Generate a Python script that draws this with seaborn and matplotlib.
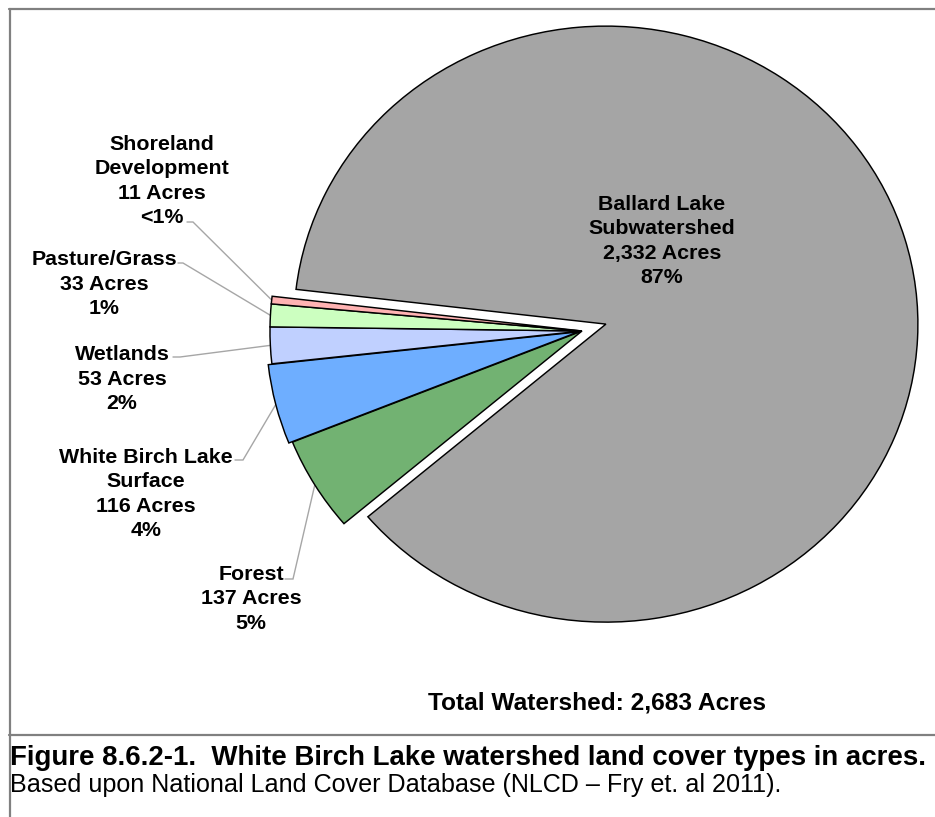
import numpy as np
import matplotlib
matplotlib.use("Agg")
import matplotlib.pyplot as plt
from matplotlib import font_manager
import seaborn as sns

# Land cover data (acres)
categories = ["Ballard Lake\nSubwatershed", "Forest", "White Birch Lake\nSurface",
              "Wetlands", "Pasture/Grass", "Shoreland\nDevelopment"]
acres = [2332, 137, 116, 53, 33, 11]
pct_labels = ["87%", "5%", "4%", "2%", "1%", "<1%"]
acre_labels = ["2,332 Acres", "137 Acres", "116 Acres", "53 Acres", "33 Acres", "11 Acres"]
colors = ["#A5A5A5", "#72B272", "#6EAEFF", "#C0D0FF", "#CCFFC0", "#FFB3B3"]
explode = [0.08, 0.0, 0.012, 0.0, 0.0, 0.0]
total_text = "Total Watershed: 2,683 Acres"
caption_title = "Figure 8.6.2-1.  White Birch Lake watershed land cover types in acres."
caption_note = "Based upon National Land Cover Database (NLCD \u2013 Fry et. al 2011)."

sns.set_theme(style="white")
plt.rcParams["font.family"] = ["Liberation Sans", "DejaVu Sans"]
plt.rcParams["text.color"] = "black"

W, H = 935, 817
fig = plt.figure(figsize=(W / 100, H / 100), dpi=100)

# Pie geometry in pixels: centre and horizontal/vertical radii
cx, cy, rx, ry = 582, 331, 312, 298
ax = fig.add_axes([0, 0, 1, 1])

wedges, _ = ax.pie(acres, colors=colors, explode=explode, startangle=173.3,
                   counterclock=False, radius=1.0,
                   wedgeprops=dict(edgecolor="black", linewidth=1.05))

# Map pixels to data units (set after pie, which resets limits/aspect)
ax.set_aspect("auto")
ax.set_xlim(-cx / rx, (W - cx) / rx)
ax.set_ylim(-(H - cy) / ry, cy / ry)
ax.axis("off")


def pix(x, y):
    """Pixel position (from top-left) to data coordinates."""
    return (x - cx) / rx, (cy - y) / ry


label_fs = 15.4
label_kw = dict(ha="center", va="center", fontsize=label_fs, fontweight="bold",
                color="black", linespacing=1.36)

# Ballard Lake label inside its wedge
bx, by = pix(662, 241)
ax.text(bx, by, f"{categories[0]}\n{acre_labels[0]}\n{pct_labels[0]}", **label_kw)

# Outside labels: text centre, leader start, leader knee (pixels)
outside = {
    1: ((251, 599), (285, 579), (293, 579)),
    2: ((146, 494), (235, 460), (243, 460)),
    3: ((122, 379), (173, 357), (180, 357)),
    4: ((104, 284), (178, 263), (183, 263)),
    5: ((162, 181), (187, 222), (193, 222)),
}
for i, (tpos, start, knee) in outside.items():
    tx, ty = pix(*tpos)
    ax.text(tx, ty, f"{categories[i]}\n{acre_labels[i]}\n{pct_labels[i]}", **label_kw)
    w = wedges[i]
    mid = np.deg2rad((w.theta1 + w.theta2) / 2)
    ex = w.center[0] + w.r * np.cos(mid)
    ey = w.center[1] + w.r * np.sin(mid)
    sx, sy = pix(*start)
    kx, ky = pix(*knee)
    ax.plot([sx, kx, ex], [sy, ky, ey], color="#A6A6A6", lw=1.0,
            solid_joinstyle="miter", zorder=0.5)

# Frame lines
line_kw = dict(color="#808080", lw=1.6, transform=fig.transFigure, clip_on=False)
fig.add_artist(plt.Line2D([9 / W, 1], [1 - 9 / H, 1 - 9 / H], **line_kw))
fig.add_artist(plt.Line2D([9.5 / W, 9.5 / W], [0, 1 - 9 / H], **line_kw))
fig.add_artist(plt.Line2D([9 / W, 1], [1 - 735 / H, 1 - 735 / H], **line_kw))

renderer = fig.canvas.get_renderer()


def fitted_text(x, y, s, width_px, ha, **kw):
    t = fig.text(x / W, 1 - y / H, s, ha=ha, va="center", fontsize=15, color="black", **kw)
    ext = t.get_window_extent(renderer=renderer)
    t.set_fontsize(15 * width_px / ext.width)
    return t


names = {f.name for f in font_manager.fontManager.ttflist}
narrow = ["Liberation Sans Narrow", "Liberation Sans"] if "Liberation Sans Narrow" in names \
    else ["Liberation Sans"]
fitted_text(597, 703, total_text, 340, "center", fontweight="bold", family=narrow)
fitted_text(10, 758, caption_title, 920, "left", fontweight="bold")
fitted_text(10, 785, caption_note, 772, "left")

fig.savefig("out.png", dpi=100, facecolor="white")
